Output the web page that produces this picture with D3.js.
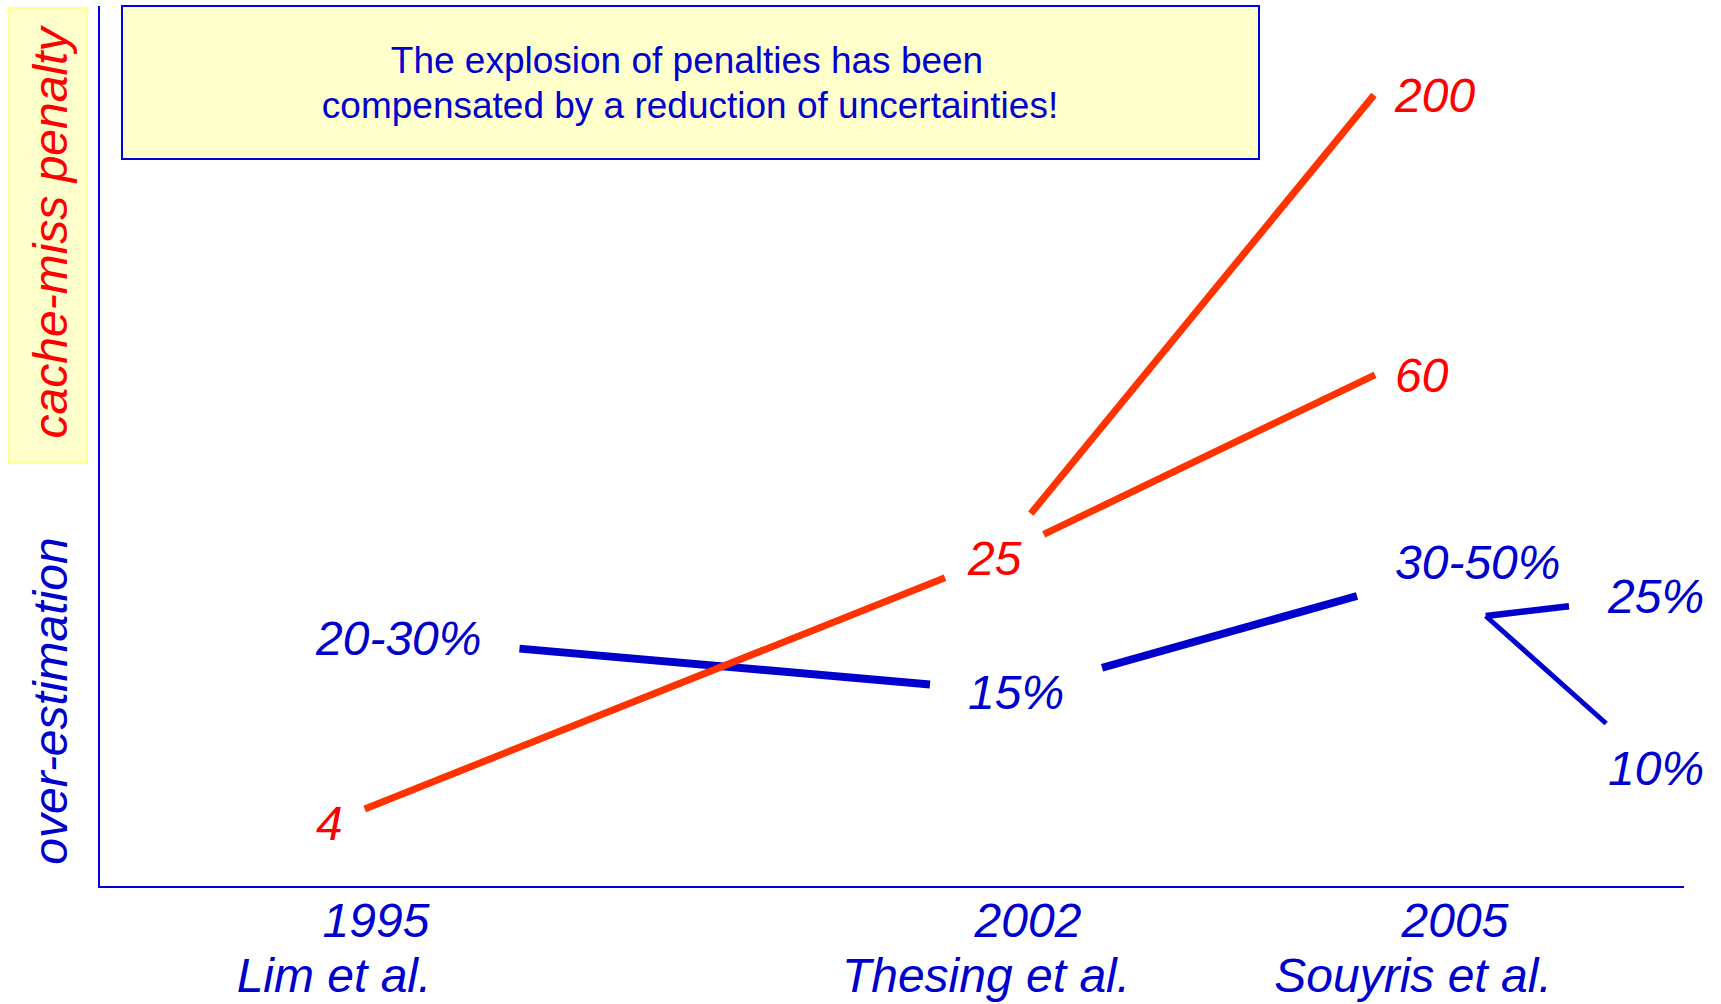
<!DOCTYPE html>
<html>
<head>
<meta charset="utf-8">
<title>Cache-miss penalty vs over-estimation</title>
<script src="https://cdn.jsdelivr.net/npm/d3@7"></script>
<style>
  body { margin: 0; background: #fff; }
  text { font-family: "Liberation Sans", Arial, Helvetica, sans-serif; }
</style>
</head>
<body>
<script type="text/javascript">
// studies on the time line
var studyYears = [1995, 2002, 2005];
var studyAuthors = ["Lim et al.", "Thesing et al.", "Souyris et al."];

// cache-miss penalty (cycles), tree: parent index per point
var penaltyYears = [1995, 2002, 2005, 2005];
var penaltyValues = [4, 25, 60, 200];
var penaltyParents = [-1, 0, 1, 1];

// over-estimation (%), low / high bound of the reported range
var overYears = [1995, 2002, 2005, 2006, 2006];
var overLow = [20, 15, 30, 25, 10];
var overHigh = [30, 15, 50, 25, 10];
var overParents = [-1, 0, 1, 2, 2];

var width = 1721,
    height = 1004;

var blue = "#0000cc",
    red = "#ff0000",
    redLine = "#ff3300",
    paleYellow = "#ffffcc";

var svg = d3.select("body").append("svg")
    .attr("width", width)
    .attr("height", height);

var x = d3.scaleLinear()
    .domain([1995, 2002, 2005, 2006])
    .range([316, 968, 1395, 1608]);
var yPenalty = d3.scaleSymlog().constant(7)
    .domain([4, 200])
    .range([823, 95]);
var yOver = d3.scaleLog()
    .domain([10, 30])
    .range([768, 562]);

// side label box / message box
svg.append("rect")
    .attr("x", 9).attr("y", 8).attr("width", 78).attr("height", 455)
    .attr("fill", paleYellow).attr("stroke", "#ffff99").attr("stroke-width", 2);

svg.append("rect")
    .attr("x", 122).attr("y", 6).attr("width", 1137).attr("height", 153)
    .attr("fill", paleYellow).attr("stroke", "#0000dd").attr("stroke-width", 2);

svg.append("text")
    .attr("x", 687).attr("y", 73)
    .attr("text-anchor", "middle")
    .attr("font-size", 37).attr("fill", blue)
    .text("The explosion of penalties has been");
svg.append("text")
    .attr("x", 690).attr("y", 118)
    .attr("text-anchor", "middle")
    .attr("font-size", 37).attr("fill", blue)
    .text("compensated by a reduction of uncertainties!");

svg.append("text")
    .attr("transform", "translate(67,233) rotate(-90)")
    .attr("text-anchor", "middle")
    .attr("font-size", 48).attr("font-style", "italic").attr("fill", red)
    .text("cache-miss penalty");
svg.append("text")
    .attr("transform", "translate(67,701) rotate(-90)")
    .attr("text-anchor", "middle")
    .attr("font-size", 48).attr("font-style", "italic").attr("fill", blue)
    .text("over-estimation");

// axes
svg.append("line")
    .attr("x1", 99).attr("y1", 6).attr("x2", 99).attr("y2", 887)
    .attr("stroke", "#0000dd").attr("stroke-width", 2);
svg.append("line")
    .attr("x1", 98).attr("y1", 887).attr("x2", 1684).attr("y2", 887)
    .attr("stroke", "#0000dd").attr("stroke-width", 2);

var ticks = svg.append("g").attr("class", "ticks")
    .selectAll("g")
    .data(studyYears)
    .enter().append("g");
ticks.append("text")
    .attr("x", function(d) { return x(d) + 60; })
    .attr("y", 937)
    .attr("text-anchor", "middle")
    .attr("font-size", 48).attr("font-style", "italic").attr("fill", blue)
    .text(function(d) { return d; });
ticks.append("text")
    .attr("x", function(d) { return x(d) + 18; })
    .attr("y", 992)
    .attr("text-anchor", "middle")
    .attr("font-size", 48).attr("font-style", "italic").attr("fill", blue)
    .text(function(d, i) { return studyAuthors[i]; });

var lineLayer = svg.append("g");
var overLines = lineLayer.append("g");
var penaltyLines = lineLayer.append("g");

// cut a segment so it stops short of the label boxes at both ends
function trimmed(a, b, ha, hb) {
  var dx = b.x - a.x, dy = b.y - a.y;
  var len = Math.sqrt(dx * dx + dy * dy);
  var ux = dx / len, uy = dy / len;
  var ta = ha ? Math.min(ha.w / Math.abs(ux), ha.h / Math.abs(uy)) : 0;
  var tb = hb ? Math.min(hb.w / Math.abs(ux), hb.h / Math.abs(uy)) : 0;
  return [a.x + ux * ta, a.y + uy * ta, b.x - ux * tb, b.y - uy * tb];
}

function drawSeries(years, values, labels, parents, yScale, textColor, lineColor, lineGroup, padX, widthFor) {
  var nodes = years.map(function(yr, i) {
    return {year: yr, value: values[i], label: labels[i], parent: parents[i]};
  });
  var txt = svg.append("g")
      .selectAll("text")
      .data(nodes)
      .enter().append("text")
      .attr("x", function(d) { return x(d.year); })
      .attr("y", function(d) { return yScale(d.value); })
      .attr("dy", "0.35em")
      .attr("font-size", 48).attr("font-style", "italic")
      .attr("fill", textColor)
      .text(function(d) { return d.label; });
  txt.each(function(d) {
    var bb = this.getBBox();
    d.left = bb.x;
    d.cx = bb.x + bb.width / 2;
    d.cy = yScale(d.value);
    d.half = {w: bb.width / 2 + padX, h: 44.5};
  });
  var segs = [];
  nodes.forEach(function(d, i) {
    if (d.parent < 0) return;
    var p = nodes[d.parent];
    var leaf = parents.indexOf(i) < 0;
    var s;
    if (d.year > studyYears[studyYears.length - 1]) {
      // later results fork out from just under the parent label
      s = trimmed({x: p.cx + 8, y: p.cy + 54}, {x: d.cx, y: d.cy}, null, d.half);
    } else if (leaf) {
      // last value: the line runs up to the left of its label
      s = trimmed({x: p.cx, y: p.cy}, {x: d.left - 20, y: d.cy}, p.half, null);
    } else {
      s = trimmed({x: p.cx, y: p.cy}, {x: d.cx, y: d.cy}, p.half, d.half);
    }
    segs.push({s: s, w: widthFor(d, i)});
  });
  lineGroup.selectAll("line")
      .data(segs)
      .enter().append("line")
      .attr("x1", function(d) { return d.s[0]; })
      .attr("y1", function(d) { return d.s[1]; })
      .attr("x2", function(d) { return d.s[2]; })
      .attr("y2", function(d) { return d.s[3]; })
      .attr("stroke", lineColor)
      .attr("stroke-width", function(d) { return d.w; })
      .attr("stroke-linecap", "butt");
}

var overLabels = overLow.map(function(lo, i) {
  return lo === overHigh[i] ? lo + "%" : lo + "-" + overHigh[i] + "%";
});

drawSeries(overYears, overLow, overLabels, overParents, yOver, blue, blue, overLines, 38,
  function(d) { return d.year > 2005 ? (d.value < 20 ? 5 : 6.5) : 8; });
drawSeries(penaltyYears, penaltyValues, penaltyValues.map(String), penaltyParents, yPenalty, red, redLine, penaltyLines, 22,
  function() { return 7; });
</script>
</body>
</html>
